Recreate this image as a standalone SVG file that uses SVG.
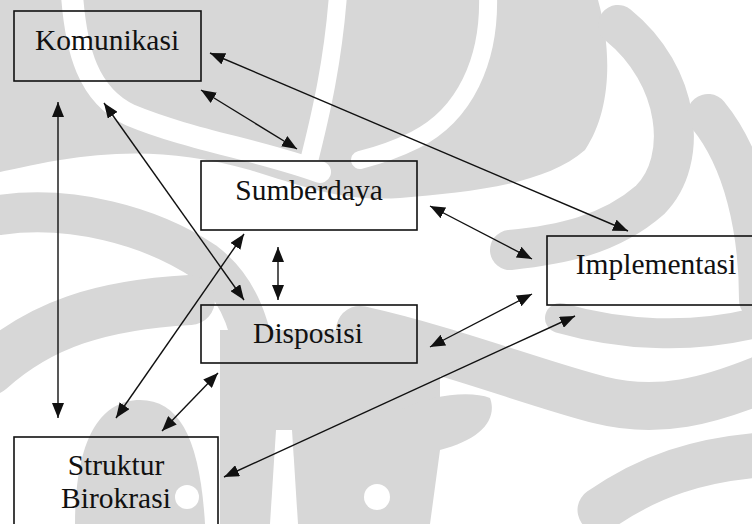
<svg xmlns="http://www.w3.org/2000/svg" width="752" height="524" viewBox="0 0 752 524">
  <defs>
    <style>
      .wm { fill: #d7d7d7; }
      .wm-band { fill: none; stroke: #d7d7d7; stroke-linecap: round; }
      .wm-gap { fill: none; stroke: #ffffff; stroke-linecap: round; }
      .box { fill: none; stroke: #111111; stroke-width: 1.6; }
      .label { font-family: 'Liberation Serif', 'DejaVu Serif', serif; font-size: 29.5px; fill: #111111; text-anchor: middle; }
      .link { fill: none; stroke: #111111; stroke-width: 1.4; marker-start: url(#head); marker-end: url(#head); }
    </style>
    <marker id="head" viewBox="0 0 15 12" refX="15" refY="6" markerWidth="15" markerHeight="12" markerUnits="userSpaceOnUse" orient="auto-start-reverse">
      <path d="M0,0 L15,6 L0,12 Z" fill="#111111"/>
    </marker>
  </defs>

  <rect width="752" height="524" fill="#ffffff"/>

  <!-- faint background emblem -->
  <g id="watermark">
    <path class="wm" d="M0,0 H598 C612,50 612,110 585,150 C545,185 470,192 400,198 C340,202 300,185 250,170 C180,150 120,150 60,160 C30,165 10,170 0,172 Z"/>
    <path class="wm-gap" stroke-width="22" d="M72,-5 C76,50 88,95 130,115 C190,140 260,150 320,172"/>
    <path class="wm-gap" stroke-width="18" d="M338,-5 C333,60 322,110 308,165"/>
    <path class="wm-gap" stroke-width="18" d="M488,-5 C490,60 465,115 415,140 C395,150 380,155 360,160"/>
    <path class="wm-band" stroke-width="40" d="M618,25 C680,75 690,160 650,200 C610,235 560,245 510,250"/>
    <path class="wm-band" stroke-width="42" d="M708,115 C745,160 760,230 760,300"/>
    <path class="wm-band" stroke-width="30" d="M560,318 C620,335 690,340 760,322"/>
    <path class="wm-band" stroke-width="40" d="M0,215 C70,205 150,225 205,262 C235,285 250,320 255,360"/>
    <path class="wm-band" stroke-width="50" d="M-10,370 C40,325 100,305 190,300"/>
    <path class="wm-band" stroke-width="48" d="M360,330 C450,350 540,385 600,400 C660,415 710,400 760,380"/>
    <path class="wm-band" stroke-width="45" d="M600,510 C650,475 700,460 760,455"/>
    <path class="wm" d="M75,524 C75,440 100,400 140,400 C180,400 200,440 205,524 Z"/>
    <path class="wm" d="M220,330 H440 V400 C420,405 405,415 400,430 V524 H220 Z"/>
    <path class="wm" d="M400,410 C430,395 470,390 490,398 C498,420 480,440 440,450 L430,524 H400 Z"/>
    <path fill="#ffffff" d="M270,524 L276,430 L292,430 L298,524 Z"/>
    <circle cx="377" cy="497" r="13" fill="#ffffff"/>
    <circle cx="187" cy="497" r="12" fill="#ffffff"/>
  </g>

  <!-- relationship links, double-headed -->
  <g id="connectors">
    <line class="link" x1="210" y1="53" x2="628" y2="231"/>
    <line class="link" x1="201" y1="90" x2="297" y2="149"/>
    <line class="link" x1="104" y1="103" x2="244" y2="300"/>
    <line class="link" x1="58" y1="102" x2="58" y2="418"/>
    <line class="link" x1="244" y1="234" x2="116" y2="418"/>
    <line class="link" x1="218" y1="373" x2="162" y2="431"/>
    <line class="link" x1="278" y1="247" x2="278" y2="300"/>
    <line class="link" x1="430" y1="206" x2="532" y2="259"/>
    <line class="link" x1="430" y1="347" x2="532" y2="294"/>
    <line class="link" x1="224" y1="477" x2="575" y2="316"/>
  </g>

  <g id="komunikasi">
    <rect class="box" x="14" y="11" width="187" height="70"/>
    <text class="label" x="107" y="50" font-family="Liberation Serif, DejaVu Serif, serif">Komunikasi</text>
  </g>
  <g id="sumberdaya">
    <rect class="box" x="201" y="161" width="216" height="69"/>
    <text class="label" x="309" y="200" font-family="Liberation Serif, DejaVu Serif, serif">Sumberdaya</text>
  </g>
  <g id="disposisi">
    <rect class="box" x="201" y="305" width="216" height="58"/>
    <text class="label" x="308" y="343" font-family="Liberation Serif, DejaVu Serif, serif">Disposisi</text>
  </g>
  <g id="implementasi">
    <rect class="box" x="547" y="236" width="215" height="69"/>
    <text class="label" x="656" y="274" font-family="Liberation Serif, DejaVu Serif, serif">Implementasi</text>
  </g>
  <g id="struktur-birokrasi">
    <rect class="box" x="14" y="437" width="204" height="100"/>
    <text class="label" x="116" y="475" font-family="Liberation Serif, DejaVu Serif, serif">Struktur</text>
    <text class="label" x="116" y="508" font-family="Liberation Serif, DejaVu Serif, serif">Birokrasi</text>
  </g>
</svg>
